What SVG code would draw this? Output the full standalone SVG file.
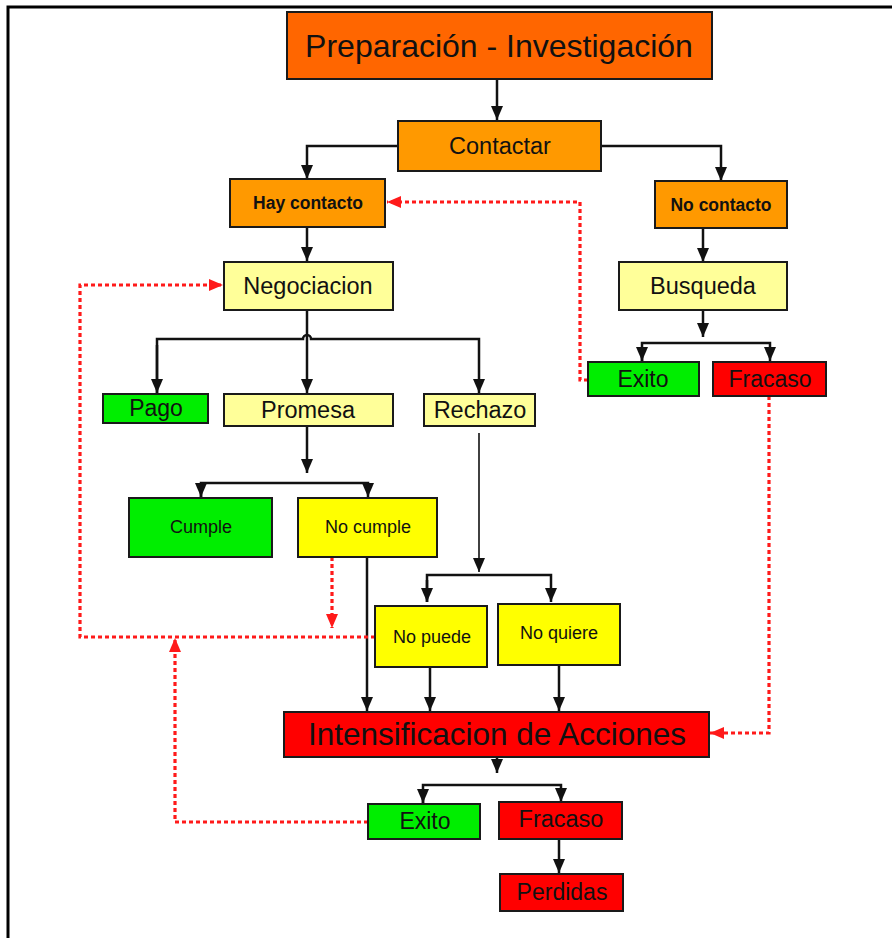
<svg xmlns="http://www.w3.org/2000/svg" width="892" height="938" viewBox="0 0 892 938">
<style>
.box{stroke:#1a1a1a;stroke-width:2}
.t{font-family:"Liberation Sans",Arial,sans-serif;fill:#111;text-anchor:middle;dominant-baseline:central}
.b{font-weight:bold}
.c{fill:none;stroke:#111;stroke-width:2.5}
.thin{stroke-width:1.6}
.r{fill:none;stroke:#ff1a1a;stroke-width:3.2;stroke-dasharray:4 3}
</style>
<defs>
<marker id="ab" viewBox="0 0 14 12" refX="14" refY="6" markerWidth="14" markerHeight="12" markerUnits="userSpaceOnUse" orient="auto">
<path d="M0,0 L14,6 L0,12 z" fill="#111"/>
</marker>
<marker id="ar" viewBox="0 0 14 12" refX="14" refY="6" markerWidth="14" markerHeight="12" markerUnits="userSpaceOnUse" orient="auto">
<path d="M0,0 L14,6 L0,12 z" fill="#ff1a1a"/>
</marker>
</defs>
<rect width="892" height="938" fill="#fff"/>
<path d="M8,938 L8,7 L892,7" fill="none" stroke="#000" stroke-width="3"/>

<g id="connectors">
<path class="c" d="M497,79 L497,120" marker-end="url(#ab)"/>
<path class="c" d="M398,146 L307,146 L307,179" marker-end="url(#ab)"/>
<path class="c" d="M601,146 L721,146 L721,181" marker-end="url(#ab)"/>
<path class="c" d="M307,227 L307,261" marker-end="url(#ab)"/>
<path class="c" d="M703,228 L703,262" marker-end="url(#ab)"/>
<path class="c" d="M703,310 L703,337"  marker-end="url(#ab)"/>
<path class="c" d="M642,361 L642,343 L770,343 L770,361" marker-end="url(#ab)"/>
<path class="c" d="M642,348 L642,361" marker-end="url(#ab)"/>
<path class="c" d="M307,310 L307,393" marker-end="url(#ab)"/>
<path class="c" d="M157,393 L157,339 L303,339 A4,4 0 0 1 311,339 L479,339 L479,393" marker-end="url(#ab)"/>
<path class="c" d="M157,345 L157,393" marker-end="url(#ab)"/>
<path class="c" d="M307,426 L307,473" marker-end="url(#ab)"/>
<path class="c" d="M201,497 L201,483 L368,483 L368,497" marker-end="url(#ab)"/>
<path class="c" d="M201,488 L201,497" marker-end="url(#ab)"/>
<path class="c" d="M367,557 L367,711" marker-end="url(#ab)"/>
<path class="c thin" d="M479,433 L479,572" marker-end="url(#ab)"/>
<path class="c" d="M427,602 L427,575 L551,575 L551,602" marker-end="url(#ab)"/>
<path class="c" d="M427,580 L427,602" marker-end="url(#ab)"/>
<path class="c" d="M430,667 L430,711" marker-end="url(#ab)"/>
<path class="c" d="M559,665 L559,711" marker-end="url(#ab)"/>
<path class="c" d="M497,757 L497,773" marker-end="url(#ab)"/>
<path class="c" d="M423,803 L423,785 L561,785 L561,802" marker-end="url(#ab)"/>
<path class="c" d="M423,790 L423,803" marker-end="url(#ab)"/>
<path class="c" d="M559,839 L559,873" marker-end="url(#ab)"/>

<path class="r" d="M588,380 L580,380 L580,202 L387,202" marker-end="url(#ar)"/>
<path class="r" d="M769,396 L769,733 L710,733" marker-end="url(#ar)"/>
<path class="r" d="M332,557 L332,628" marker-end="url(#ar)"/>
<path class="r" d="M375,637 L80,637 L80,285 L223,285" marker-end="url(#ar)"/>
<path class="r" d="M368,822 L175,822 L175,638" marker-end="url(#ar)"/>
</g>

<g id="n-preparacion"><rect class="box" x="287" y="12" width="425" height="67" fill="#ff6600"/><text class="t" x="499" y="46" font-size="32">Preparación - Investigación</text></g>
<g id="n-contactar"><rect class="box" x="398" y="121" width="203" height="50" fill="#ff9900"/><text class="t" x="500" y="146" font-size="23.5">Contactar</text></g>
<g id="n-hay-contacto"><rect class="box" x="230" y="179" width="155" height="48" fill="#ff9900"/><text class="t b" x="308" y="203" font-size="17.5">Hay contacto</text></g>
<g id="n-no-contacto"><rect class="box" x="655" y="181" width="132" height="47" fill="#ff9900"/><text class="t b" x="721" y="205" font-size="17.5">No contacto</text></g>
<g id="n-negociacion"><rect class="box" x="224" y="262" width="169" height="48" fill="#ffff99"/><text class="t" x="308" y="286" font-size="23.5">Negociacion</text></g>
<g id="n-busqueda"><rect class="box" x="619" y="262" width="168" height="48" fill="#ffff99"/><text class="t" x="703" y="286" font-size="23.5">Busqueda</text></g>
<g id="n-exito1"><rect class="box" x="588" y="362" width="111" height="34" fill="#00ee00"/><text class="t" x="643" y="379" font-size="23">Exito</text></g>
<g id="n-fracaso1"><rect class="box" x="713" y="362" width="113" height="34" fill="#ff0000"/><text class="t" x="770" y="379" font-size="23">Fracaso</text></g>
<g id="n-pago"><rect class="box" x="103" y="394" width="105" height="29" fill="#00ee00"/><text class="t" x="156" y="408" font-size="23">Pago</text></g>
<g id="n-promesa"><rect class="box" x="224" y="394" width="169" height="32" fill="#ffff99"/><text class="t" x="308" y="410" font-size="23.5">Promesa</text></g>
<g id="n-rechazo"><rect class="box" x="424" y="394" width="111" height="32" fill="#ffff99"/><text class="t" x="480" y="410" font-size="23.5">Rechazo</text></g>
<g id="n-cumple"><rect class="box" x="129" y="498" width="143" height="59" fill="#00ee00"/><text class="t" x="201" y="527" font-size="18">Cumple</text></g>
<g id="n-no-cumple"><rect class="box" x="298" y="498" width="139" height="59" fill="#ffff00"/><text class="t" x="368" y="527" font-size="18">No cumple</text></g>
<g id="n-no-puede"><rect class="box" x="375" y="606" width="112" height="61" fill="#ffff00"/><text class="t" x="432" y="637" font-size="18">No puede</text></g>
<g id="n-no-quiere"><rect class="box" x="498" y="604" width="122" height="61" fill="#ffff00"/><text class="t" x="559" y="633" font-size="18">No quiere</text></g>
<g id="n-intensificacion"><rect class="box" x="284" y="712" width="425" height="45" fill="#ff0000"/><text class="t" x="497" y="734" font-size="31.5">Intensificacion de Acciones</text></g>
<g id="n-exito2"><rect class="box" x="368" y="804" width="112" height="35" fill="#00ee00"/><text class="t" x="425" y="821" font-size="23">Exito</text></g>
<g id="n-fracaso2"><rect class="box" x="499" y="802" width="123" height="37" fill="#ff0000"/><text class="t" x="561" y="819" font-size="23.5">Fracaso</text></g>
<g id="n-perdidas"><rect class="box" x="500" y="874" width="123" height="37" fill="#ff0000"/><text class="t" x="562" y="892" font-size="23">Perdidas</text></g>
</svg>
